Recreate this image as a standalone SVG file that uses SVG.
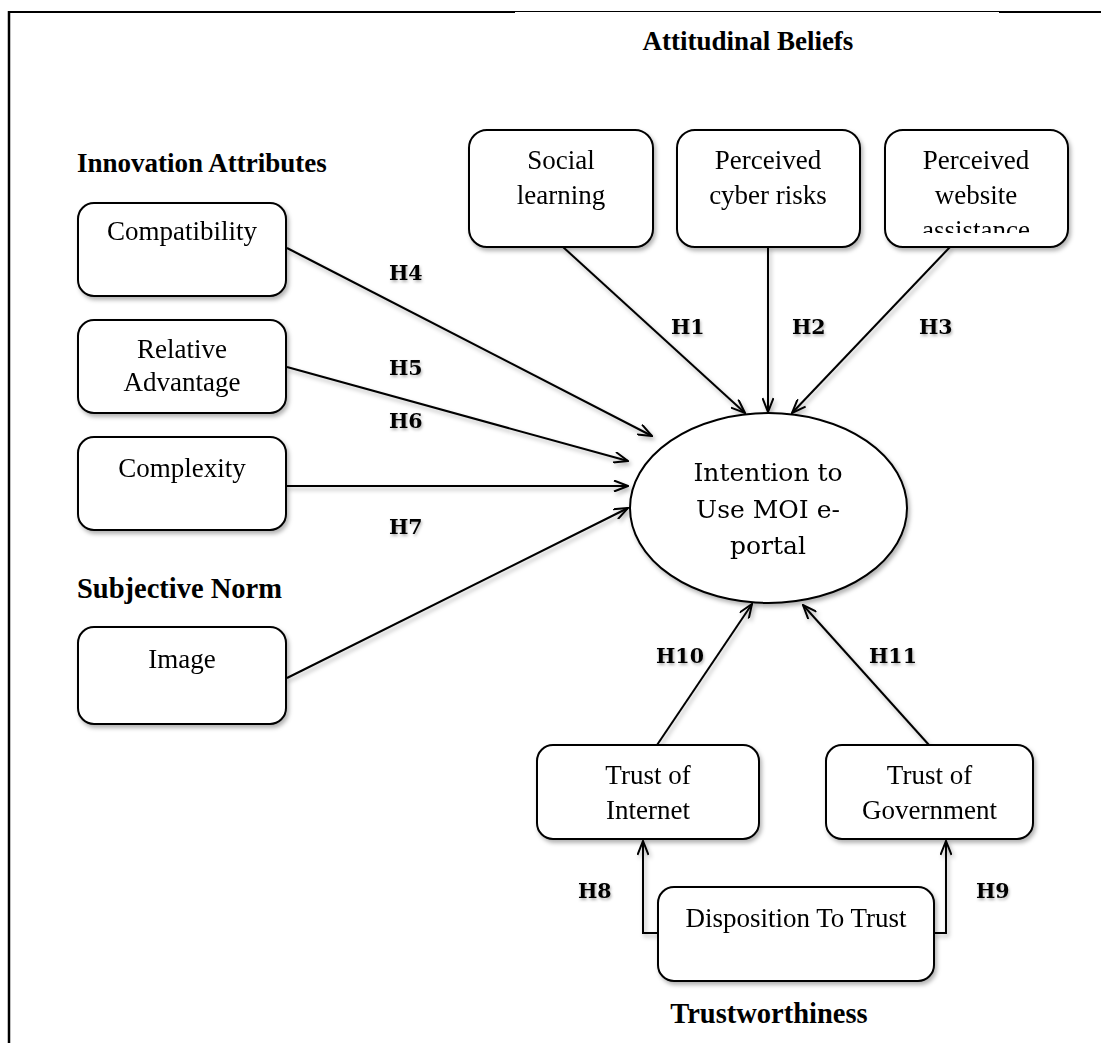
<svg xmlns="http://www.w3.org/2000/svg" width="1101" height="1043" viewBox="0 0 1101 1043">
  <style>
    .box { fill: #fff; stroke: #000; stroke-width: 2; }
    .lbl { font-family: "Liberation Serif", "Times New Roman", serif; font-size: 27px; fill: #000; text-anchor: middle; }
    .head { font-family: "Liberation Serif", "Times New Roman", serif; font-size: 27px; font-weight: bold; fill: #000; }
    .hyp { font-family: "DejaVu Serif", serif; font-size: 20.5px; font-weight: bold; fill: #000; }
    .oval { font-family: "DejaVu Serif", serif; font-size: 25px; fill: #000; text-anchor: middle; }
    .edge { fill: none; stroke: #000; stroke-width: 2; marker-end: url(#open); }
  </style>
  <defs>
    <marker id="open" viewBox="0 0 16 12" refX="15" refY="6" markerWidth="16" markerHeight="12" markerUnits="userSpaceOnUse" orient="auto">
      <path d="M1,0.5 L15,6 L1,11.5" fill="none" stroke="#000" stroke-width="2"/>
    </marker>
    <filter id="shadow" x="-10%" y="-10%" width="130%" height="140%">
      <feDropShadow dx="2" dy="3" stdDeviation="2" flood-color="#000" flood-opacity="0.3"/>
    </filter>
    <filter id="glow" x="-20%" y="-20%" width="150%" height="160%">
      <feDropShadow dx="1" dy="2" stdDeviation="1.5" flood-color="#000" flood-opacity="0.3"/>
    </filter>
    <clipPath id="clipWeb">
      <rect x="885" y="130" width="183" height="103"/>
    </clipPath>
  </defs>

  <!-- frame -->
  <g id="frame" stroke="#000" fill="none">
    <line x1="9" y1="11" x2="9" y2="1043" stroke-width="2.5"/>
    <line x1="8" y1="12" x2="515" y2="12" stroke-width="2"/>
    <line x1="515" y1="11.5" x2="999" y2="11.5" stroke-width="1"/>
    <line x1="999" y1="12" x2="1101" y2="12" stroke-width="2"/>
  </g>

  <!-- group headings -->
  <g id="headings">
    <text class="head" x="748" y="50" text-anchor="middle">Attitudinal Beliefs</text>
    <text class="head" x="77" y="172">Innovation Attributes</text>
    <text class="head" x="77" y="598" style="font-size:28.5px">Subjective Norm</text>
    <text class="head" x="769" y="1023" text-anchor="middle" style="font-size:28.5px">Trustworthiness</text>
  </g>

  <!-- connectors -->
  <g id="connectors" filter="url(#shadow)">
    <line class="edge" x1="563" y1="247" x2="745" y2="413"/>
    <line class="edge" x1="768" y1="247" x2="768" y2="412"/>
    <line class="edge" x1="950" y1="247" x2="792" y2="413"/>
    <line class="edge" x1="287" y1="248" x2="652" y2="436"/>
    <line class="edge" x1="287" y1="367" x2="628" y2="461"/>
    <line class="edge" x1="287" y1="486" x2="628" y2="486"/>
    <line class="edge" x1="287" y1="678" x2="628" y2="508"/>
    <line class="edge" x1="657" y1="745" x2="752" y2="604"/>
    <line class="edge" x1="929" y1="745" x2="803" y2="605"/>
    <polyline class="edge" points="658,933 643,933 643,841"/>
    <polyline class="edge" points="934,933 946,933 946,841"/>
  </g>

  <!-- hypothesis labels -->
  <g id="hypotheses" filter="url(#glow)">
    <text class="hyp" x="671" y="334">H1</text>
    <text class="hyp" x="792" y="334">H2</text>
    <text class="hyp" x="919" y="334">H3</text>
    <text class="hyp" x="389" y="280">H4</text>
    <text class="hyp" x="389" y="375">H5</text>
    <text class="hyp" x="389" y="428">H6</text>
    <text class="hyp" x="389" y="534">H7</text>
    <text class="hyp" x="578" y="898">H8</text>
    <text class="hyp" x="976" y="898">H9</text>
    <text class="hyp" x="656" y="663">H10</text>
    <text class="hyp" x="869" y="663">H11</text>
  </g>

  <!-- attitudinal beliefs -->
  <g id="social-learning" filter="url(#shadow)">
    <rect class="box" x="469" y="130" width="184" height="117" rx="18"/>
    <text class="lbl" x="561" y="169">Social</text>
    <text class="lbl" x="561" y="204">learning</text>
  </g>
  <g id="cyber-risks" filter="url(#shadow)">
    <rect class="box" x="677" y="130" width="183" height="117" rx="18"/>
    <text class="lbl" x="768" y="169">Perceived</text>
    <text class="lbl" x="768" y="204">cyber risks</text>
  </g>
  <g id="website-assistance" filter="url(#shadow)">
    <rect class="box" x="885" y="130" width="183" height="117" rx="18"/>
    <g clip-path="url(#clipWeb)">
      <text class="lbl" x="976" y="169">Perceived</text>
      <text class="lbl" x="976" y="204">website</text>
      <text class="lbl" x="976" y="239">assistance</text>
    </g>
  </g>

  <!-- innovation attributes -->
  <g id="compatibility" filter="url(#shadow)">
    <rect class="box" x="78" y="203" width="208" height="93" rx="16"/>
    <text class="lbl" x="182" y="240">Compatibility</text>
  </g>
  <g id="relative-advantage" filter="url(#shadow)">
    <rect class="box" x="78" y="320" width="208" height="93" rx="16"/>
    <text class="lbl" x="182" y="358">Relative</text>
    <text class="lbl" x="182" y="391">Advantage</text>
  </g>
  <g id="complexity" filter="url(#shadow)">
    <rect class="box" x="78" y="437" width="208" height="93" rx="16"/>
    <text class="lbl" x="182" y="477">Complexity</text>
  </g>

  <!-- subjective norm -->
  <g id="image" filter="url(#shadow)">
    <rect class="box" x="78" y="627" width="208" height="97" rx="16"/>
    <text class="lbl" x="182" y="668">Image</text>
  </g>

  <!-- outcome -->
  <g id="intention" filter="url(#shadow)">
    <ellipse class="box" cx="768.5" cy="508" rx="138.5" ry="95"/>
    <text class="oval" x="768" y="481">Intention to</text>
    <text class="oval" x="768" y="518">Use MOI e-</text>
    <text class="oval" x="768" y="554">portal</text>
  </g>

  <!-- trustworthiness -->
  <g id="trust-internet" filter="url(#shadow)">
    <rect class="box" x="537" y="745" width="222" height="94" rx="16"/>
    <text class="lbl" x="648" y="784">Trust of</text>
    <text class="lbl" x="648" y="819">Internet</text>
  </g>
  <g id="trust-government" filter="url(#shadow)">
    <rect class="box" x="826" y="745" width="207" height="94" rx="16"/>
    <text class="lbl" x="929.5" y="784">Trust of</text>
    <text class="lbl" x="929.5" y="819">Government</text>
  </g>
  <g id="disposition" filter="url(#shadow)">
    <rect class="box" x="658" y="887" width="276" height="94" rx="16"/>
    <text class="lbl" x="796" y="927">Disposition To Trust</text>
  </g>
</svg>
